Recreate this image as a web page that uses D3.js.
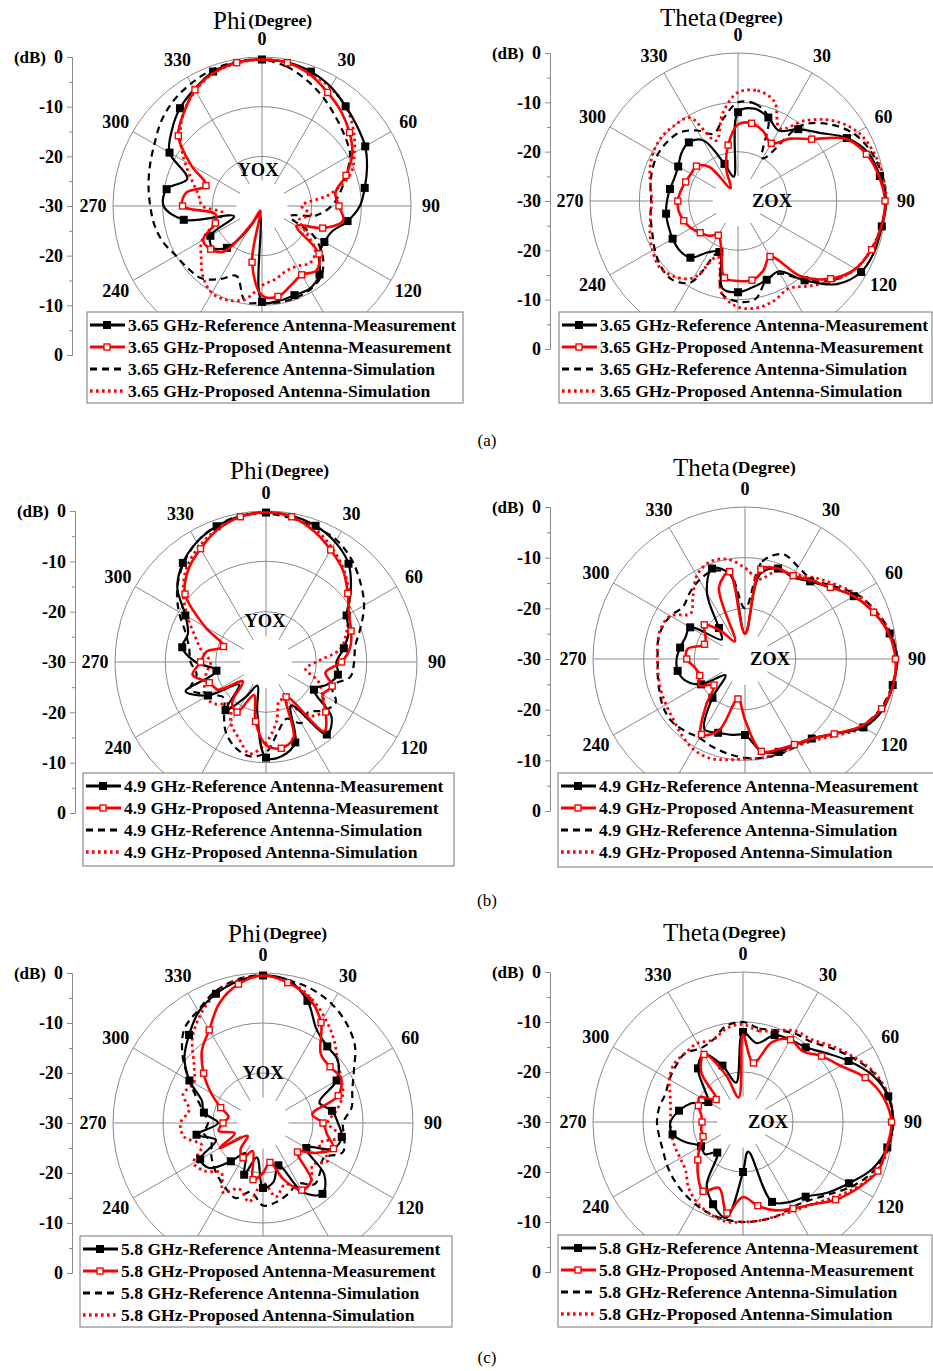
<!DOCTYPE html>
<html>
<head>
<meta charset="utf-8">
<script src="https://cdn.jsdelivr.net/npm/d3@7"></script>
<style>
  body { margin: 0; background: #fff; }
  text { font-family: "Liberation Serif", "Times New Roman", serif; }
</style>
</head>
<body>
<svg id="chart" width="933" height="1371"></svg>
<script>
// angles (degree) of every sample, 0 at top, clockwise
const angles = [0,10,20,30,40,50,60,70,80,90,100,110,120,130,140,150,160,170,
                180,190,200,210,220,230,240,250,260,270,280,290,300,310,320,330,340,350];
const gridAngles = [0,30,60,90,120,150,180,210,240,270,300,330];
// 150, 180 and 210 sit under the legend box
const labelAngles = [0,30,60,90,120,240,270,300,330];
const ringLevels = [-20,-10,0];
const dbTickPos = [0,10,20,30,40,50,60];
const dbTickLabels = ["0","-10","-20","-30","-20","-10","0"];
const dbMinorPos = [5,15,25,35,45,55];

const freqs = ["3.65 GHz","4.9 GHz","5.8 GHz"];
const seriesNames = ["Reference Antenna-Measurement","Proposed Antenna-Measurement",
                     "Reference Antenna-Simulation","Proposed Antenna-Simulation"];

// 3.65 GHz, Phi (YOX)
const phi365RefMeas  = [-0.5,-0.6,-1.2,-2.3,-3.8,-5,-6,-7.5,-9,-10.3,-12.5,-15,-15.5,-15,-12,-10.8,-10.9,-10.6,-10.7,-28,-28,-25,-19,-17,-18,-24,-14,-10.2,-10.5,-14,-8.5,-6.3,-4.3,-2.8,-1.2,-0.6];
const phi365PropMeas = [-0.5,-0.7,-1.8,-3.6,-5.2,-7,-9,-12,-15,-14.5,-13.4,-17,-22,-15,-13,-14,-13,-11.5,-12,-18.5,-29,-26,-18,-16.5,-16.3,-20,-20.5,-14,-14.5,-18,-13.5,-8,-5.5,-3,-1.5,-0.7];
const phi365RefSim   = [-0.5,-1.5,-3.2,-5,-6.8,-8.2,-9.5,-12,-14,-16,-19,-24,-18,-14,-11.5,-10.6,-10.3,-10.3,-10.5,-10.5,-15,-13,-11,-10.5,-10,-8.8,-8,-7.5,-6.8,-6,-5,-3.5,-2.3,-1.5,-0.8,-0.5];
const phi365PropSim  = [-0.5,-0.7,-1.5,-2.5,-3.8,-6,-8.5,-11,-16,-22,-20,-22,-20,-16,-15,-16,-16,-15,-14,-11,-9.8,-9.8,-11.5,-14,-16,-20,-22,-18,-17,-15,-12,-8.5,-5.5,-3.2,-1.5,-0.8];

// 3.65 GHz, Theta (ZOX)
const theta365RefMeas  = [-12,-11,-12,-13.5,-11,-8.5,-4.5,-1.8,-0.8,0,-0.4,-0.5,-1.2,-3.8,-9,-13.5,-13,-12.3,-11.5,-12,-19,-18,-15,-14.5,-14.7,-15,-15.2,-15.6,-16,-16.3,-16,-15,-14.5,-15.8,-22,-25];
const theta365PropMeas = [-14.5,-14,-15,-16.5,-13.5,-10.5,-4.8,-2.3,-1,-0.2,-0.5,-1.2,-2.5,-5.5,-10,-17,-15,-13.7,-13.8,-14.2,-20,-22,-20.8,-20,-19,-18.3,-17.8,-17.8,-18.2,-18.7,-19,-19,-21,-27,-23,-18.5];
const theta365RefSim   = [-10,-10,-12,-20,-10,-5.8,-2.8,-1.2,-0.3,0,-0.5,-1.3,-2.5,-5,-9,-13,-13,-9.8,-9.6,-11,-19,-11,-9.2,-9.5,-10.5,-11.5,-12,-12.4,-12,-11.5,-11.2,-11.3,-11.8,-13.5,-15.5,-13];
const theta365PropSim  = [-8,-7.3,-8.5,-13,-8.7,-4.7,-2,-0.8,-0.2,0,-0.5,-1.3,-2.5,-4.8,-7.5,-9.5,-8.5,-8,-8.5,-11,-18,-12,-10,-9.2,-10,-11,-12,-12.5,-12,-11,-10.2,-9.8,-10,-10.5,-17,-12];

// 4.9 GHz, Phi (YOX)
const phi49RefMeas  = [-0.3,-0.5,-1.2,-2.5,-4.5,-8,-11.5,-12.5,-14.3,-16,-15.5,-17,-19,-13,-11.2,-20,-13,-11.1,-11,-20,-25,-22,-17.5,-23,-16.7,-13,-20,-16,-13.1,-13.5,-11.5,-7,-4.3,-2.5,-1.3,-0.6];
const phi49PropMeas = [-0.3,-0.7,-2.3,-4.3,-6.2,-8.8,-11,-12,-13,-15,-18,-16,-17,-14.5,-12,-22,-14,-12.6,-13.5,-18,-23,-18.5,-19.5,-24,-19,-18,-15.2,-17,-18,-21,-16,-9,-6,-4,-2,-0.7];
const phi49RefSim   = [-0.5,-1,-1.5,-2,-3.5,-5.5,-7.5,-10,-12,-12.5,-13,-16,-14,-15,-17,-16,-18,-16,-12,-11,-12,-14,-17,-19,-17,-14,-16,-15,-14.5,-13,-10,-7,-4.5,-2.5,-1.2,-0.5];
const phi49PropSim  = [-0.3,-0.6,-1.8,-3.8,-6,-8.5,-11,-13,-15,-20,-22,-19,-17,-15,-16,-20,-22,-18,-14,-11.5,-14,-16,-19,-17,-16,-17,-18,-19,-17,-15,-12,-8.5,-5.5,-3.5,-1.8,-0.6];

// 4.9 GHz, Theta (ZOX)
const theta49RefMeas  = [-25,-13,-11,-11.3,-10,-8,-5.2,-3,-1,0,-0.4,-1,-3,-7,-9.5,-10.5,-10.5,-11.5,-15,-14.8,-14.5,-14,-20,-25,-20,-17.5,-16.5,-16.5,-17,-17.5,-17.5,-24,-22,-15,-11,-13];
const theta49PropMeas = [-25,-12,-11,-11,-9.7,-8,-5.2,-3,-1.2,-0.3,-0.3,-1.3,-3.5,-7,-9.5,-10.5,-11,-11.5,-18,-22,-15,-12.8,-18,-22,-19.5,-20.5,-20,-18.5,-18.5,-21.5,-21,-19.5,-23,-26,-15,-12.5];
const theta49RefSim   = [-20,-10.5,-8,-9,-9.5,-7.5,-4.5,-2.5,-0.8,0,-0.5,-1.5,-3.5,-7,-9.5,-10,-10,-10.2,-10.5,-11,-11.5,-12,-11.5,-11,-11.3,-12,-12.5,-12.8,-12.5,-12.5,-13,-14,-13,-12,-11.5,-13];
const theta49PropSim  = [-12,-14,-11.5,-10.8,-9,-7,-4.5,-2.5,-0.8,0,-0.4,-1.2,-3,-6.5,-9,-10,-10.2,-10.2,-10.3,-9.8,-9.2,-9.5,-10.5,-11.5,-12,-12.3,-12.6,-12.7,-12.5,-12.3,-13,-16,-14,-11,-9.6,-10];

// 5.8 GHz, Phi (YOX)
const phi58RefMeas  = [-0.5,-1,-4,-8.5,-10,-10.5,-13,-18,-16,-15,-14,-15,-20,-14,-11.5,-14,-21,-18,-17,-23,-19,-23,-20,-16,-15.5,-20,-16.5,-21,-18,-17,-13,-9.5,-7,-4.3,-2.5,-1.2];
const phi58PropMeas = [-0.5,-1.5,-3.3,-6.8,-12,-12.5,-12,-14,-20,-18,-17,-15,-18,-21,-15,-14.5,-18,-22,-20,-18.5,-24,-22,-23,-26,-20,-24,-21,-22,-23,-21,-18,-14.5,-11,-8.5,-4.5,-1.8];
const phi58RefSim   = [-0.5,-1,-1.5,-2.5,-4,-6,-9,-11,-12,-14,-13.5,-13,-16,-15,-14,-16,-15,-14,-13.5,-16,-14,-15,-16,-17,-18,-19,-18,-19,-18,-16,-13,-9,-5.5,-4,-2,-0.8];
const phi58PropSim  = [-0.5,-1.2,-3,-5.5,-8,-10.5,-12,-13,-15,-17,-14,-18,-15,-17,-15,-14.5,-17,-15,-18,-14,-16,-14,-17,-15,-14,-17,-14,-13.5,-15,-13,-14,-12,-8,-5,-2.5,-1];

// 5.8 GHz, Theta (ZOX)
const theta58RefMeas  = [-12,-14,-11.5,-11,-10.5,-8.5,-5.6,-2.5,-0.5,0,-0.7,-2.5,-5.5,-8,-10.5,-11.5,-13,-24,-20,-10.5,-12.5,-15.5,-22,-20,-20.3,-18,-15.7,-15.5,-17,-19,-22,-20,-16,-14.3,-18,-22];
const theta58PropMeas = [-12.5,-18,-13,-11,-11.5,-9.5,-7.5,-4,-1.5,-0.3,-0.8,-1.3,-3.5,-5.8,-8.5,-10,-11.2,-13,-15,-11.5,-16,-14,-16,-18.2,-20,-21.5,-21.5,-21.8,-21.5,-20.5,-20,-23,-17,-14.4,-20,-25];
const theta58RefSim   = [-10,-11,-10.5,-9.5,-9,-7,-4.5,-2,-0.5,0,-0.7,-2,-4.5,-7.5,-9.5,-10.3,-10,-10,-10,-10.2,-10.5,-11,-11.5,-12,-12.5,-13,-13,-12.8,-13,-13.5,-13,-12.5,-12,-13,-12.5,-10.5];
const theta58PropSim  = [-10.5,-11.5,-10.5,-9,-8.5,-6.5,-4.2,-1.8,-0.4,0,-0.4,-1.5,-3.8,-6.5,-8.5,-9.5,-10,-10,-10,-9.8,-10.5,-11.5,-13,-15,-15.5,-15.5,-15.5,-15.5,-15.3,-14.5,-13,-12,-12,-11.8,-12.5,-11];

// page layout of the six panels
const layout = [
  {cx:262, cy:206,  R:149, axX:72,  titleX:213, titleY:29,  plane:[-4,-36], lx:87,  ly:312,  lw:376, lh:91},
  {cx:738, cy:201,  R:148, axX:550, titleX:660, titleY:26,  plane:[34,0],   lx:559, ly:312,  lw:373, lh:91},
  {cx:266, cy:662,  R:151, axX:75,  titleX:230, titleY:479, plane:[-1,-41], lx:83,  ly:773,  lw:371, lh:93},
  {cx:745, cy:659,  R:152, axX:550, titleX:673, titleY:476, plane:[25,0],   lx:558, ly:773,  lw:380, lh:94},
  {cx:263, cy:1123, R:150, axX:72,  titleX:228, titleY:942, plane:[0,-50],  lx:80,  ly:1236, lw:372, lh:91},
  {cx:743, cy:1122, R:150, axX:550, titleX:663, titleY:941, plane:[25,0],   lx:558, ly:1235, lw:374, lh:92}
];
const captions = [{t:"(a)", y:440}, {t:"(b)", y:900}, {t:"(c)", y:1357}];

const panels = [
  {title:"Phi",   plane:"YOX", freq:freqs[0], series:[phi365RefMeas, phi365PropMeas, phi365RefSim, phi365PropSim]},
  {title:"Theta", plane:"ZOX", freq:freqs[0], series:[theta365RefMeas, theta365PropMeas, theta365RefSim, theta365PropSim]},
  {title:"Phi",   plane:"YOX", freq:freqs[1], series:[phi49RefMeas, phi49PropMeas, phi49RefSim, phi49PropSim]},
  {title:"Theta", plane:"ZOX", freq:freqs[1], series:[theta49RefMeas, theta49PropMeas, theta49RefSim, theta49PropSim]},
  {title:"Phi",   plane:"YOX", freq:freqs[2], series:[phi58RefMeas, phi58PropMeas, phi58RefSim, phi58PropSim]},
  {title:"Theta", plane:"ZOX", freq:freqs[2], series:[theta58RefMeas, theta58PropMeas, theta58RefSim, theta58PropSim]}
];

// line style for each of the 4 series
const styles = [
  {stroke:"#000", width:2.2, dash:null,  marker:"filled"},
  {stroke:"#f00", width:2.6, dash:null,  marker:"hollow"},
  {stroke:"#000", width:2.2, dash:"7,5", marker:null},
  {stroke:"#f00", width:2.8, dash:"2.6,3.4", marker:null}
];

const svg = d3.select("#chart");
const gridCol = "#8a8a8a";
const rad = a => a * Math.PI / 180;

let drawMarker = (sel, kind, x, y) => {
  if (kind == "filled")
    sel.append("rect").attr("x", x-4).attr("y", y-4).attr("width", 8).attr("height", 8).attr("fill", "#000");
  else
    sel.append("rect").attr("x", x-3).attr("y", y-3).attr("width", 6).attr("height", 6)
      .attr("fill", "#fff").attr("stroke", "#f00").attr("stroke-width", 1.4);
};

let drawPanel = (p, L) => {
  const r = d3.scaleLinear().domain([-30, 0]).range([0, L.R]).clamp(true);

  // left dB axis, mirrored around -30 at the centre
  const yAx = d3.scaleLinear().domain([0, 60]).range([L.cy - L.R, L.cy + L.R]);
  const axG = svg.append("g").attr("transform", `translate(${L.axX},0)`);
  axG.call(d3.axisLeft(yAx).tickValues(dbTickPos).tickSize(5).tickSizeOuter(0)
      .tickFormat((d, i) => dbTickLabels[i]));
  axG.append("g").call(d3.axisLeft(yAx).tickValues(dbMinorPos).tickSize(3).tickSizeOuter(0).tickFormat(""));
  axG.selectAll("path.domain").attr("stroke", gridCol);
  axG.selectAll(".tick line").attr("stroke", gridCol);
  axG.selectAll(".tick text").attr("font-size", 18).attr("font-weight", "bold")
    .attr("font-family", '"Liberation Serif", serif').attr("fill", "#000").attr("x", -9);
  svg.append("text").attr("x", L.axX - 26).attr("y", L.cy - L.R).attr("dy", "0.35em")
    .attr("text-anchor", "end").attr("font-size", 17).attr("font-weight", "bold").text("(dB)");

  const g = svg.append("g").attr("transform", `translate(${L.cx},${L.cy})`);

  g.selectAll("circle.ring").data(ringLevels).join("circle")
    .attr("class", "ring").attr("r", d => r(d))
    .attr("fill", "none").attr("stroke", gridCol).attr("stroke-width", 1);

  const r0 = L.R * 0.17;
  g.selectAll("line.spoke").data(gridAngles).join("line")
    .attr("class", "spoke")
    .attr("x1", d => r0 * Math.sin(rad(d))).attr("y1", d => -r0 * Math.cos(rad(d)))
    .attr("x2", d => L.R * Math.sin(rad(d))).attr("y2", d => -L.R * Math.cos(rad(d)))
    .attr("stroke", gridCol).attr("stroke-width", 1);

  const labR = d => L.R + (d == 0 ? 18 : 20);
  g.selectAll("text.ang").data(labelAngles).join("text")
    .attr("class", "ang")
    .attr("x", d => labR(d) * Math.sin(rad(d)))
    .attr("y", d => -labR(d) * Math.cos(rad(d)))
    .attr("dy", "0.35em").attr("text-anchor", "middle")
    .attr("font-size", 18).attr("font-weight", "bold").text(d => d);

  g.append("text").attr("x", L.plane[0]).attr("y", L.plane[1]).attr("dy", "0.35em")
    .attr("text-anchor", "middle").attr("font-size", 18.5).attr("font-weight", "bold").text(p.plane);

  const line = d3.lineRadial()
    .angle((d, i) => rad(angles[i]))
    .radius(d => r(d))
    .curve(d3.curveCatmullRomClosed.alpha(0.5));

  // draw simulations first, measurements on top
  [2, 3, 0, 1].forEach(k => {
    const st = styles[k];
    g.append("path").attr("d", line(p.series[k]))
      .attr("fill", "none").attr("stroke", st.stroke).attr("stroke-width", st.width)
      .attr("stroke-dasharray", st.dash).attr("stroke-linejoin", "round");
    if (st.marker) {
      const mg = g.append("g");
      p.series[k].forEach((v, i) => {
        if (i % 2 != (k == 0 ? 0 : 1) || v <= -24) return;
        const [x, y] = d3.pointRadial(rad(angles[i]), r(v));
        drawMarker(mg, st.marker, x, y);
      });
    }
  });

  // title
  const tt = svg.append("text").attr("x", L.titleX).attr("y", L.titleY);
  tt.append("tspan").attr("font-size", 25).text(p.title);
  tt.append("tspan").attr("font-size", 17.5).attr("font-weight", "bold").attr("dx", 2).attr("dy", -3).text("(Degree)");

  // legend
  const lg = svg.append("g").attr("transform", `translate(${L.lx},${L.ly})`);
  lg.append("rect").attr("width", L.lw).attr("height", L.lh)
    .attr("fill", "#fff").attr("stroke", "#777").attr("stroke-width", 1);
  seriesNames.forEach((name, k) => {
    const st = styles[k];
    const y = 13 + k * 22;
    lg.append("line").attr("x1", 3).attr("x2", 38).attr("y1", y).attr("y2", y)
      .attr("stroke", st.stroke).attr("stroke-width", st.width + 0.6).attr("stroke-dasharray", st.dash);
    if (st.marker) drawMarker(lg, st.marker, 20, y);
    lg.append("text").attr("x", 41).attr("y", y).attr("dy", "0.35em")
      .attr("font-size", 17.6).attr("font-weight", "bold").text(p.freq + "-" + name);
  });
};

panels.forEach((p, i) => drawPanel(p, layout[i]));

svg.selectAll("text.cap").data(captions).join("text")
  .attr("class", "cap").attr("x", 487).attr("y", d => d.y).attr("dy", "0.35em")
  .attr("text-anchor", "middle").attr("font-size", 17).text(d => d.t);
</script>
</body>
</html>
